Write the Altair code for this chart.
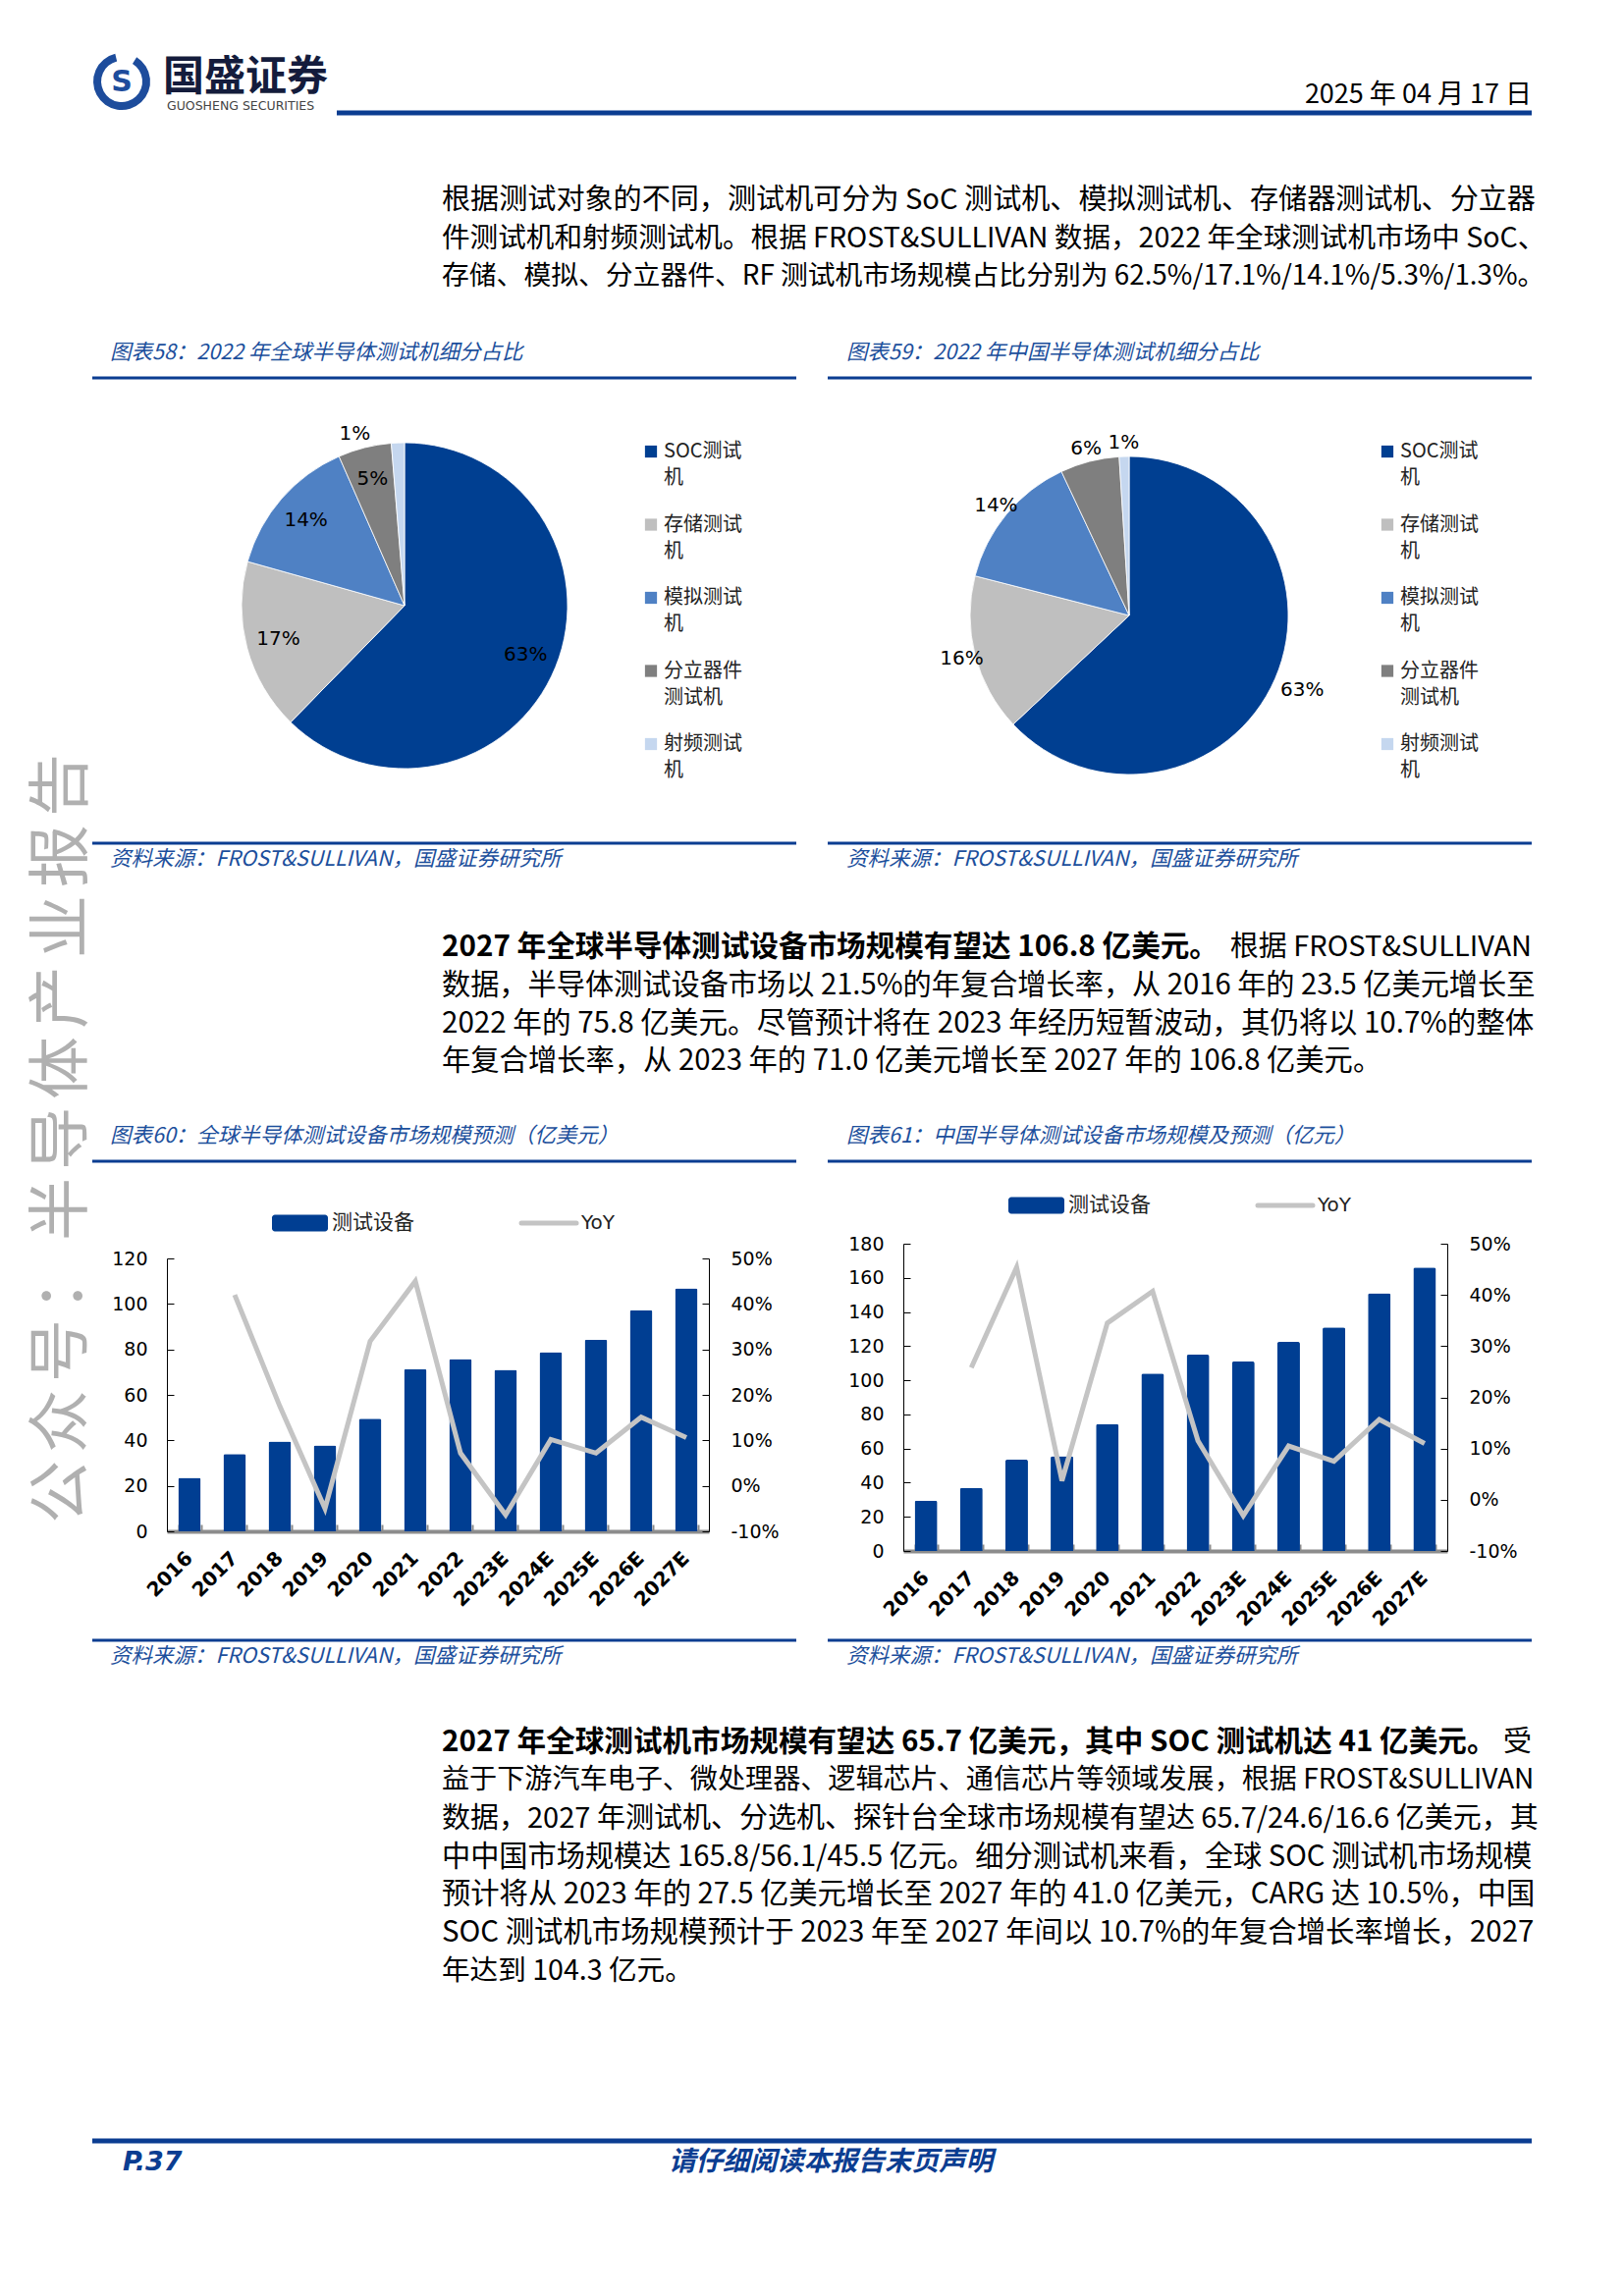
import altair as alt
import pandas as pd

W, H = 1630, 2310
OFF = 8


def px(v):
    return v - OFF


BLUE = '#0b3d91'
TBLUE = '#1c4f9c'
BAR = '#003e92'
LINEG = '#c4c4c4'
LOGO = '#1d4c9c'
CJK = 'Noto Sans CJK SC'
LAT = 'DejaVu Sans'

# ---------------- data ----------------
pie_cats = ['SOC测试机', '存储测试机', '模拟测试机', '分立器件测试机', '射频测试机']
pie_colors = ['#003f91', '#bfbfbf', '#4f81c4', '#7f7f7f', '#c5d7ef']
pie58_vals = [62.5, 17.1, 14.1, 5.3, 1.3]
pie58_labels = ['63%', '17%', '14%', '5%', '1%']
pie59_vals = [63, 16, 14, 6, 1]
pie59_labels = ['63%', '16%', '14%', '6%', '1%']

years = ['2016', '2017', '2018', '2019', '2020', '2021', '2022',
         '2023E', '2024E', '2025E', '2026E', '2027E']
equip_global = [23.5, 34.0, 39.5, 37.8, 49.5, 71.3, 75.8, 71.0, 78.8, 84.3, 97.2, 106.8]
yoy_global = [None, 42.0, 17.5, -5.0, 31.8, 45.0, 7.2, -6.4, 10.2, 7.2, 15.1, 10.6]
equip_china = [29.5, 37.0, 53.5, 55.5, 74.3, 104.0, 115.0, 111.0, 122.5, 131.0, 151.0, 166.0]
yoy_china = [None, 25.8, 45.4, 3.7, 34.5, 40.7, 11.5, -3.1, 10.5, 7.5, 15.7, 11.0]
left_ticks_global = [0, 20, 40, 60, 80, 100, 120]
left_ticks_china = [0, 20, 40, 60, 80, 100, 120, 140, 160, 180]
right_ticks = [-10, 0, 10, 20, 30, 40, 50]

watermark = '公众号：半导体产业报告'

para1 = [
    '根据测试对象的不同，测试机可分为 SoC 测试机、模拟测试机、存储器测试机、分立器',
    '件测试机和射频测试机。根据 FROST&SULLIVAN 数据，2022 年全球测试机市场中 SoC、',
    '存储、模拟、分立器件、RF 测试机市场规模占比分别为 62.5%/17.1%/14.1%/5.3%/1.3%。',
]
para1_sizes = [29.1, 28.6, 27.8]
para2_bold = '2027 年全球半导体测试设备市场规模有望达 106.8 亿美元。'
para2_tail = '根据 FROST&SULLIVAN'
para2 = [
    '数据，半导体测试设备市场以 21.5%的年复合增长率，从 2016 年的 23.5 亿美元增长至',
    '2022 年的 75.8 亿美元。尽管预计将在 2023 年经历短暂波动，其仍将以 10.7%的整体',
    '年复合增长率，从 2023 年的 71.0 亿美元增长至 2027 年的 106.8 亿美元。',
]
para2_sizes = [29.2, 29.6, 29.3]
para3_bold = '2027 年全球测试机市场规模有望达 65.7 亿美元，其中 SOC 测试机达 41 亿美元。'
para3_tail = '受'
para3 = [
    '益于下游汽车电子、微处理器、逻辑芯片、通信芯片等领域发展，根据 FROST&SULLIVAN',
    '数据，2027 年测试机、分选机、探针台全球市场规模有望达 65.7/24.6/16.6 亿美元，其',
    '中中国市场规模达 165.8/56.1/45.5 亿元。细分测试机来看，全球 SOC 测试机市场规模',
    '预计将从 2023 年的 27.5 亿美元增长至 2027 年的 41.0 亿美元，CARG 达 10.5%，中国',
    'SOC 测试机市场规模预计于 2023 年至 2027 年间以 10.7%的年复合增长率增长，2027',
    '年达到 104.3 亿元。',
]
para3_sizes = [28.1, 29.0, 29.2, 29.3, 29.4, 28.6]


# ---------------- helpers ----------------
def T(s, x, y, size=28, align='left', weight='normal', style='normal',
      color='black', font=CJK, angle=None, baseline='middle'):
    m = dict(align=align, baseline=baseline, fontSize=size, fontWeight=weight,
             fontStyle=style, color=color, font=font)
    if angle is not None:
        m['angle'] = angle
    return alt.Chart(pd.DataFrame({'t': [s]})).mark_text(**m).encode(
        x=alt.value(px(x)), y=alt.value(px(y)), text='t:N')


def R(x1, x2, y, color=BLUE, w=3):
    return alt.Chart(pd.DataFrame({'a': [0]})).mark_rule(
        color=color, strokeWidth=w).encode(
        x=alt.value(px(x1)), x2=alt.value(px(x2)), y=alt.value(px(y)))


def pie(vals, labels, cx, cy, r, label_groups):
    """label_groups: list of (filter expression on idx, radius, dx, dy)."""
    df = pd.DataFrame({'cat': pie_cats, 'v': vals, 'idx': list(range(len(vals))), 'lab': labels})
    base = alt.Chart(df).encode(
        theta=alt.Theta('v:Q', stack=True),
        order=alt.Order('idx:Q', sort='ascending'),
    )
    arcs = base.mark_arc(radius=r, stroke='white', strokeWidth=0.8).encode(
        x=alt.value(px(cx)), y=alt.value(px(cy)),
        color=alt.Color('cat:N', scale=alt.Scale(domain=pie_cats, range=pie_colors),
                        legend=None, sort=pie_cats))
    parts = [arcs]
    for k, (cond, rad, dx, dy) in enumerate(label_groups):
        fld = f't{k}'
        parts.append(base.transform_calculate(**{fld: f"({cond}) ? datum.lab : ''"}).mark_text(
            radius=rad, dx=dx, dy=dy, font=LAT, fontSize=20, color='black').encode(
            x=alt.value(px(cx)), y=alt.value(px(cy)), text=f'{fld}:N'))
    return alt.layer(*parts)


def split_label(name):
    if name == '分立器件测试机':
        return name[:4], name[4:]
    return name[:-1], name[-1:]


def pie_legend(sq_x, tx_x, y0, y1):
    l1 = [split_label(c)[0] for c in pie_cats]
    l2 = [split_label(c)[1] for c in pie_cats]
    df = pd.DataFrame({'cat': pie_cats, 'l1': l1, 'l2': l2})
    ysc = alt.Scale(type='point', domain=pie_cats, range=[px(y0), px(y1)], padding=0)
    Y = alt.Y('cat:N', scale=ysc, axis=None, sort=pie_cats)
    sq = alt.Chart(df).mark_square(size=150, opacity=1).encode(
        x=alt.value(px(sq_x)), y=Y,
        color=alt.Color('cat:N', scale=alt.Scale(domain=pie_cats, range=pie_colors),
                        legend=None, sort=pie_cats))
    t1 = alt.Chart(df).mark_text(align='left', baseline='middle', font=CJK, fontSize=20,
                                 color='#222222').encode(
        x=alt.value(px(tx_x)), y=Y, text='l1:N')
    t2 = alt.Chart(df).mark_text(align='left', baseline='middle', font=CJK, fontSize=20,
                                 dy=27, color='#222222').encode(
        x=alt.value(px(tx_x)), y=Y, text='l2:N')
    return alt.layer(sq, t1, t2)


def bar_chart(vals, yoy, ticks_left, ymax, x0, x1, yb, yt):
    df = pd.DataFrame({'yr': years, 'v': vals, 'yoy': yoy})
    xsc = alt.Scale(type='band', domain=years, range=[px(x0), px(x1)],
                    paddingInner=0.5, paddingOuter=0.25)
    ysc = alt.Scale(domain=[0, ymax], range=[px(yb), px(yt)], nice=False, zero=True)
    rsc = alt.Scale(domain=[-10, 50], range=[px(yb), px(yt)], nice=False, zero=False)
    lab = dict(labelFont=LAT, labelColor='black', title=None, grid=False)
    bars = alt.Chart(df).mark_bar(color=BAR, cornerRadiusTopLeft=2, cornerRadiusTopRight=2).encode(
        x=alt.X('yr:N', sort=years, scale=xsc,
                axis=alt.Axis(orient='top', offset=-px(yb), labels=False, ticks=True,
                              tickBand='extent', tickSize=7, tickColor='#8c8c8c', tickWidth=2,
                              domainColor='#8c8c8c', domainWidth=4, title=None, grid=False)),
        y=alt.Y('v:Q', scale=ysc,
                axis=alt.Axis(orient='left', offset=-px(x0), values=ticks_left, ticks=False,
                              tickSize=0, labelPadding=20, domainColor='black', domainWidth=1,
                              labelFontSize=19, **lab)))
    line = alt.Chart(df).transform_filter('isValid(datum.yoy)').mark_line(
        color=LINEG, strokeWidth=5).encode(
        x=alt.X('yr:N', sort=years, scale=xsc, bandPosition=0.5,
                axis=alt.Axis(orient='bottom', offset=px(yb) - H, domain=False, ticks=False,
                              tickSize=0, labelAngle=-45, labelAlign='right',
                              labelBaseline='middle', labelPadding=24, labelFontWeight='bold',
                              labelFontSize=20, **lab)),
        y=alt.Y('yoy:Q', scale=rsc,
                axis=alt.Axis(orient='right', offset=px(x1) - W, values=right_ticks, ticks=False,
                              tickSize=0, labelPadding=22, domainColor='black', domainWidth=1,
                              labelExpr="datum.value + '%'", labelFontSize=19, **lab)))
    tick_l = alt.Chart(df).mark_point(opacity=0).encode(
        x=alt.value(px(x0)),
        y=alt.Y('v:Q', scale=ysc,
                axis=alt.Axis(orient='right', offset=px(x0) - W, values=ticks_left, labels=False,
                              domain=False, ticks=True, tickSize=7, tickColor='black',
                              title=None, grid=False)))
    tick_r = alt.Chart(df).mark_point(opacity=0).encode(
        x=alt.value(px(x1)),
        y=alt.Y('yoy:Q', scale=rsc,
                axis=alt.Axis(orient='left', offset=-px(x1), values=right_ticks, labels=False,
                              domain=False, ticks=True, tickSize=7, tickColor='black',
                              title=None, grid=False)))
    return [bars, line, tick_l, tick_r]


def bar_legend(x_shift, yc):
    box = alt.Chart(pd.DataFrame({'a': [0]})).mark_rect(color=BAR, cornerRadius=3).encode(
        x=alt.value(px(277 + x_shift)), x2=alt.value(px(334 + x_shift)),
        y=alt.value(px(yc - 8.5)), y2=alt.value(px(yc + 8.5)))
    ln = alt.Chart(pd.DataFrame({'a': [0]})).mark_rule(
        color=LINEG, strokeWidth=5, strokeCap='round').encode(
        x=alt.value(px(531 + x_shift)), x2=alt.value(px(587 + x_shift)), y=alt.value(px(yc)))
    return [box, ln,
            T('测试设备', 338 + x_shift, yc, size=21, color='#222222'),
            T('YoY', 592 + x_shift, yc, size=20, font=LAT, color='#222222')]


layers = []

# ---------------- header ----------------
layers.append(alt.Chart(pd.DataFrame({'a': [0]})).mark_arc(
    radius=29, radius2=21, theta=0.55, theta2=6.05, color=LOGO).encode(
    x=alt.value(px(124)), y=alt.value(px(83))))
layers.append(T('S', 124, 84, size=30, align='center', weight='bold', font=LAT, color=LOGO))
layers.append(T('国盛证券', 166, 79, size=42, weight='bold', color='#141c3c'))
layers.append(T('GUOSHENG SECURITIES', 170, 108, size=12.5, color='#444444', font=LAT))
layers.append(R(343, 1560, 115, color=BLUE, w=5))
layers.append(T('2025 年 04 月 17 日', 1560, 97, size=27, align='right'))

# watermark: vertical, read bottom to top, one glyph at a time
wm_n = len(watermark)
for i, ch in enumerate(watermark):
    layers.append(T(ch, 64, 1160 + (wm_n - 1) / 2 * 72 - i * 72, size=64, align='center',
                    color='#b0b0b0', angle=270))

# ---------------- paragraph 1 ----------------
for i, s in enumerate(para1):
    layers.append(T(s, 450, 204 + i * 39, size=para1_sizes[i]))

# ---------------- pies ----------------
layers.append(T('图表58：2022 年全球半导体测试机细分占比', 112, 360, size=21.5, style='italic', color=TBLUE))
layers.append(T('图表59：2022 年中国半导体测试机细分占比', 862, 360, size=21.5, style='italic', color=TBLUE))
layers.append(R(94, 811, 385))
layers.append(R(843, 1560, 385))
layers.append(pie(pie58_vals, pie58_labels, 412, 617, 166,
                  [('datum.idx < 4', 133, 0, 0), ('datum.idx == 4', 186, -43, 11)]))
layers.append(pie(pie59_vals, pie59_labels, 1150, 627, 162,
                  [('datum.idx > 0', 176, 0, 0), ('datum.idx == 0', 192, 0, 0)]))
layers.append(pie_legend(663, 676, 460, 758))
layers.append(pie_legend(1413, 1426, 460, 758))
layers.append(R(94, 811, 859))
layers.append(R(843, 1560, 859))
layers.append(T('资料来源：FROST&SULLIVAN，国盛证券研究所', 112, 876, size=21.5, style='italic', color=TBLUE))
layers.append(T('资料来源：FROST&SULLIVAN，国盛证券研究所', 862, 876, size=21.5, style='italic', color=TBLUE))

# ---------------- paragraph 2 ----------------
layers.append(T(para2_bold, 450, 965, size=29.6, weight='bold'))
layers.append(T(para2_tail, 1560, 965, size=29, align='right'))
for i, s in enumerate(para2):
    layers.append(T(s, 450, 1004 + i * 38.5, size=para2_sizes[i]))

# ---------------- bar charts ----------------
layers.append(T('图表60：全球半导体测试设备市场规模预测（亿美元）', 112, 1158, size=21.5, style='italic', color=TBLUE))
layers.append(T('图表61：中国半导体测试设备市场规模及预测（亿元）', 862, 1158, size=21.5, style='italic', color=TBLUE))
layers.append(R(94, 811, 1183))
layers.append(R(843, 1560, 1183))
layers += bar_legend(0, 1246)
layers += bar_legend(750, 1228)
layers += bar_chart(equip_global, yoy_global, left_ticks_global, 120, 170, 722, 1560, 1282)
layers += bar_chart(equip_china, yoy_china, left_ticks_china, 180, 920, 1474, 1580, 1267)
layers.append(R(94, 811, 1671))
layers.append(R(843, 1560, 1671))
layers.append(T('资料来源：FROST&SULLIVAN，国盛证券研究所', 112, 1688, size=21.5, style='italic', color=TBLUE))
layers.append(T('资料来源：FROST&SULLIVAN，国盛证券研究所', 862, 1688, size=21.5, style='italic', color=TBLUE))

# ---------------- paragraph 3 ----------------
layers.append(T(para3_bold, 450, 1775, size=29.6, weight='bold'))
layers.append(T(para3_tail, 1560, 1775, size=29, align='right'))
for i, s in enumerate(para3):
    layers.append(T(s, 450, 1814 + i * 38.8, size=para3_sizes[i]))

# ---------------- footer ----------------
layers.append(R(94, 1560, 2181, w=5))
layers.append(T('P.37', 125, 2203, size=27, weight='bold', style='italic', color=BLUE, font=LAT))
layers.append(T('请仔细阅读本报告末页声明', 846, 2203, size=27.5, align='center', weight='bold',
                style='italic', color=BLUE))

chart = alt.layer(*layers).resolve_scale(
    x='independent', y='independent', theta='independent', color='independent'
).properties(
    width=W, height=H, padding=0, autosize=alt.AutoSizeParams(type='none')
).configure_view(strokeWidth=0)

chart.save('out.html', embed_options={'renderer': 'svg', 'actions': False})
